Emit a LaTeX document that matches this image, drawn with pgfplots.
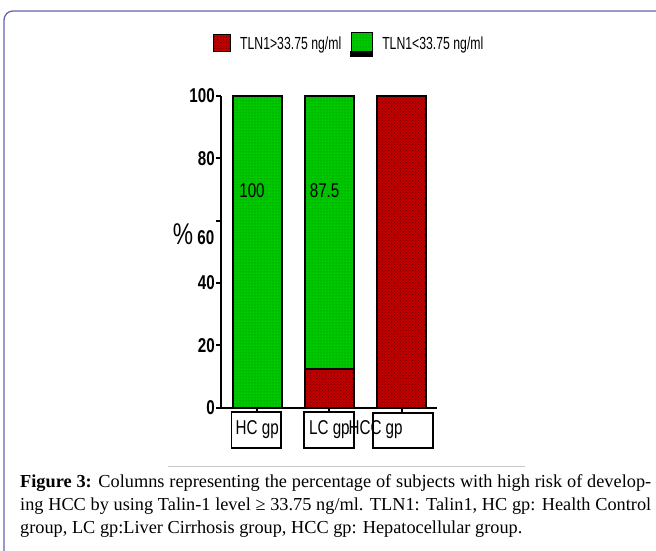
\documentclass[border=0pt]{standalone}
\usepackage{pgfplots}
\pgfplotsset{compat=1.18}
\usepackage{pgfplotstable}
\usepackage{fontspec}
\setmainfont{Liberation Serif}
\newfontfamily\chartfont[FakeStretch=0.76]{Liberation Sans}
\newfontfamily\legfont[FakeStretch=0.70]{Liberation Sans}
\usetikzlibrary{patterns}
\definecolor{barred}{RGB}{195,0,0}
\definecolor{barreddot}{RGB}{100,0,0}
\definecolor{bargreen}{RGB}{0,200,0}
\definecolor{bargreendot}{RGB}{0,120,0}
\definecolor{framecol}{RGB}{100,100,170}

\pgfplotstableread{
x red green
0 0 100
1 12.5 87.5
2 100 0
}\datatable

\begin{document}
\begin{tikzpicture}[x=1pt,y=1pt]
\useasboundingbox (0,0) rectangle (656,551);
\draw[framecol, line width=1.3pt, rounded corners=9pt] (4,-5) -- (4,540) -- (665,540);
\begin{axis}[
  at={(221pt,143.3pt)}, anchor=south west,
  scale only axis, width=216pt, height=311.7pt,
  xmin=-0.501, xmax=2.49, ymin=0, ymax=100,
  axis lines*=left,
  axis line style={line width=2pt},
  ybar stacked, bar width=49pt,
  xtick=data, ytick={0,20,40,60,80,100},
  yticklabels={0,20,40,{},80,100},
  xticklabels={HC gp,LC gp,\hspace*{-52pt}HCC gp},
  tick align=outside, major tick length=5pt,
  every tick/.style={black, line width=2pt},
  /pgf/number format/assume math mode=true,
  yticklabel style={font=\chartfont\bfseries\fontsize{20}{22}\selectfont, inner sep=1pt},
  xticklabel style={font=\chartfont\fontsize{20}{22}\selectfont, anchor=base, yshift=-22pt},
  legend style={at={(0.588,1.165)}, anchor=center, draw=none, fill=none,
    legend columns=2, font=\legfont\fontsize{17.5}{20}\selectfont,
    column sep=9pt, nodes={inner xsep=0pt}},
]
\addplot[draw=black, line width=2pt, fill=barred,
  postaction={pattern=crosshatch dots, pattern color=barreddot},
  legend image code/.code={\draw[black,line width=1.5pt,fill=barred] (0pt,-8pt) rectangle (17pt,9pt);}]
  table[x=x,y=red]{\datatable};
\addlegendentry{TLN1>33.75 ng/ml}
\addplot[draw=black, line width=2pt, fill=bargreen,
  postaction={pattern=dots, pattern color=bargreendot},
  legend image code/.code={\draw[black,line width=1.5pt,fill=bargreen] (0pt,-9pt) rectangle (21pt,11pt); \fill[black] (0pt,-13pt) rectangle (21pt,-9pt);}]
  table[x=x,y=green]{\datatable};
\addlegendentry{TLN1<33.75 ng/ml}
\coordinate (lab1) at (axis cs:-0.072,69.5);
\coordinate (lab2) at (axis cs:0.934,69.8);
\end{axis}
% value labels inside the bars
\node[font=\chartfont\fontsize{20}{22}\selectfont] at (lab1) {100};
\node[font=\chartfont\fontsize{20}{22}\selectfont] at (lab2) {87.5};
% label boxes under the axis
\draw[line width=1.5pt] (231.7,139) rectangle (281,103);
\draw[line width=1.5pt] (304,139) rectangle (354,103);
\draw[line width=1.5pt] (373,138) rectangle (433,103);
% y label and displaced 60
\node[font=\chartfont\fontsize{30}{32}\selectfont] at (183,317) {\%};
\node[anchor=east, inner sep=0pt, font=\chartfont\bfseries\fontsize{20}{22}\selectfont] at (214.5,313) {60};
% separator
\draw[black!22, line width=0.8pt] (168,85) -- (525,85);
% caption
\node[anchor=base west, text width=631pt, inner sep=0pt, align=justify,
  font=\fontsize{18.3}{23}\selectfont] at (20,63.5)
  {\hyphenpenalty=10000 \textbf{Figure 3:} Columns representing the percentage of subjects with high risk of develop-\linebreak ing HCC by using Talin-1 level ≥ 33.75 ng/ml. TLN1: Talin1, HC gp: Health Control\linebreak group, LC gp:Liver Cirrhosis group, HCC gp: Hepatocellular group.};
\end{tikzpicture}
\end{document}
